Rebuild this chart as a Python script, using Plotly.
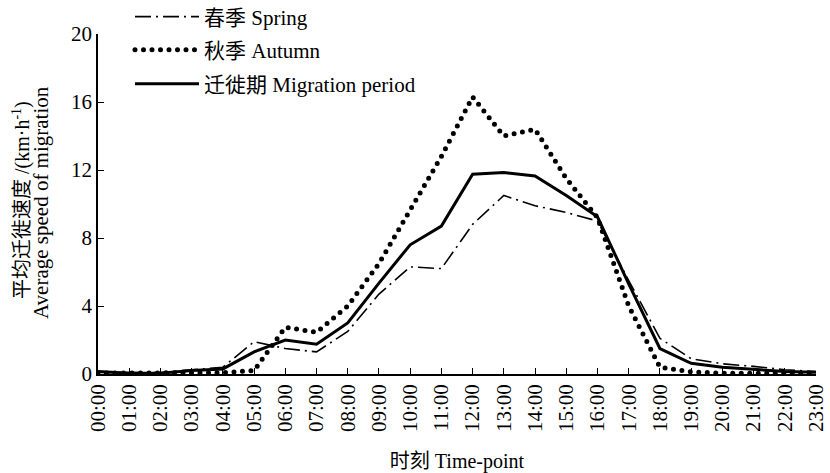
import plotly.graph_objects as go

times = ["00:00", "01:00", "02:00", "03:00", "04:00", "05:00", "06:00", "07:00",
         "08:00", "09:00", "10:00", "11:00", "12:00", "13:00", "14:00", "15:00",
         "16:00", "17:00", "18:00", "19:00", "20:00", "21:00", "22:00", "23:00"]
spring = [0.1, 0.08, 0.08, 0.25, 0.4, 1.9, 1.5, 1.3, 2.5, 4.7, 6.3, 6.2,
          8.8, 10.5, 9.9, 9.5, 9.0, 5.5, 2.1, 0.9, 0.6, 0.45, 0.25, 0.15]
autumn = [0.05, 0.05, 0.05, 0.1, 0.08, 0.2, 2.75, 2.45, 4.0, 6.5, 9.7, 12.8,
          16.3, 14.0, 14.4, 11.5, 9.2, 4.0, 0.4, 0.12, 0.05, 0.05, 0.05, 0.05]
migration = [0.15, 0.05, 0.05, 0.2, 0.3, 1.3, 2.0, 1.75, 3.0, 5.35, 7.6, 8.7,
             11.75, 11.85, 11.65, 10.5, 9.25, 5.3, 1.5, 0.63, 0.4, 0.27, 0.15, 0.1]
y_ticks = [0, 4, 8, 12, 16, 20]

names = ["春季 Spring", "秋季 Autumn", "迁徙期 Migration period"]
y_title_cn = "平均迁徙速度 /(km·h<sup>-1</sup>)"
y_title_en = "Average speed of migration"
x_title = "时刻 Time-point"

FONT = "Liberation Serif, 'Times New Roman', 'Noto Sans CJK SC', serif"

fig = go.Figure()
fig.add_trace(go.Scatter(x=times, y=spring, mode="lines", name=names[0],
                         line=dict(color="black", width=1.6, dash="16px,5px,2px,5px"),
                         cliponaxis=False, legend="legend"))
fig.add_trace(go.Scatter(x=times, y=autumn, mode="lines", name=names[1],
                         line=dict(color="black", width=5, dash="0px,8.5px"),
                         cliponaxis=False, legend="legend2"))
fig.add_trace(go.Scatter(x=times, y=migration, mode="lines", name=names[2],
                         line=dict(color="black", width=3),
                         cliponaxis=False, legend="legend3"))

L, R, T, B = 98, 14, 34, 99
W, H = 830, 473
pw, ph = W - L - R, H - T - B


def px_x(p):
    return (p - L) / pw


def px_y(p):
    return (H - B - p) / ph


leg_common = dict(xanchor="left", yanchor="middle", bgcolor="rgba(0,0,0,0)",
                  itemwidth=64, font=dict(family=FONT, size=21, color="black"))

fig.update_layout(
    width=W, height=H,
    margin=dict(l=L, r=R, t=T, b=B, autoexpand=False),
    paper_bgcolor="white", plot_bgcolor="white",
    font=dict(family=FONT, size=20, color="black"),
    showlegend=True,
    legend=dict(x=px_x(130), y=px_y(17), **leg_common),
    legend2=dict(x=px_x(130), y=px_y(50), **leg_common),
    legend3=dict(x=px_x(130), y=px_y(84), **leg_common),
    xaxis=dict(type="category", range=[0, 23], showline=True, linecolor="black",
               linewidth=1.5, ticks="inside", ticklen=6, tickcolor="black",
               tickwidth=1.2, tickangle=-90, showgrid=False, zeroline=False,
               tickfont=dict(family=FONT, size=21, color="black"),
               title=dict(text=x_title, standoff=24,
                          font=dict(family=FONT, size=20, color="black"))),
    yaxis=dict(range=[0, 20], tickvals=y_ticks, showline=True, linecolor="black",
               linewidth=1.5, ticks="inside", ticklen=6, tickcolor="black",
               tickwidth=1.2, showgrid=False, zeroline=False,
               tickfont=dict(family=FONT, size=21, color="black")),
    annotations=[
        dict(text=y_title_cn, xref="paper", yref="paper", x=px_x(21), y=px_y(200),
             xanchor="center", yanchor="middle", textangle=-90, showarrow=False,
             font=dict(family=FONT, size=20, color="black")),
        dict(text=y_title_en, xref="paper", yref="paper", x=px_x(41), y=px_y(203),
             xanchor="center", yanchor="middle", textangle=-90, showarrow=False,
             font=dict(family=FONT, size=21, color="black")),
    ],
)

post = """
document.body.style.margin = '0';
document.body.style.padding = '0';
function roundDots(){
  document.querySelectorAll('path').forEach(function(p){
    var d = p.style.strokeDasharray || '';
    if (d.indexOf('0px') === 0 || d.indexOf('0,') === 0 || d.indexOf('0 ') === 0) {
      p.style.strokeLinecap = 'round';
    }
  });
}
roundDots();
var gd = document.getElementsByClassName('plotly-graph-div')[0];
if (gd && gd.on) { gd.on('plotly_afterplot', roundDots); }
"""
fig.write_html("out.html", post_script=post, config={"displayModeBar": False})
